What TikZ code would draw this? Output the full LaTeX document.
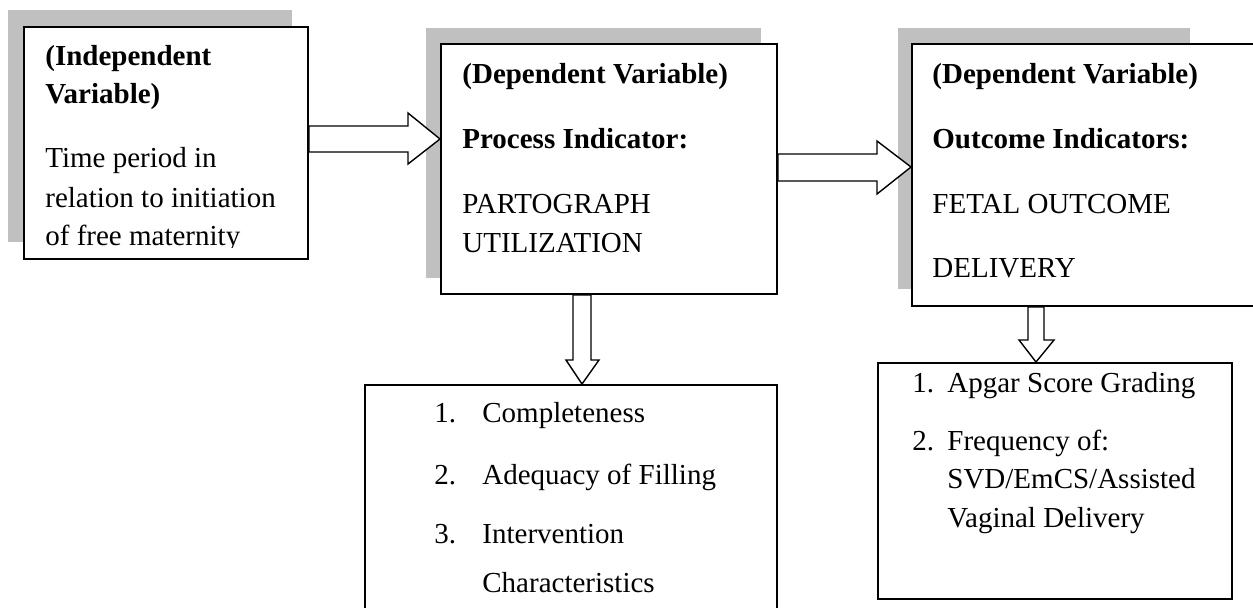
\documentclass[tikz,border=0pt]{standalone}
\usepackage{fontspec}
\setmainfont{Liberation Serif}
\usetikzlibrary{fit}
\definecolor{shadowgray}{RGB}{192,192,192}
\begin{document}
\begin{tikzpicture}[x=0.5pt,y=-0.5pt,
  box/.style={draw=black, line width=1pt, fill=white, inner sep=0pt},
  shadowbox/.style={fill=shadowgray},
  blockarrow/.style={draw=black, line width=0.7pt, fill=white, line join=miter},
  txt/.style={anchor=base west, inner sep=0pt, font=\fontsize{14.5}{17}\selectfont},
  btxt/.style={anchor=base west, inner sep=0pt, font=\fontsize{14.5}{17}\selectfont\bfseries}]
\useasboundingbox (0,0) rectangle (1253,607);
% shadows
\fill[shadowgray] (8,10) rectangle (292,242);
\fill[shadowgray] (426,28) rectangle (761,278);
\fill[shadowgray] (898,28) rectangle (1190,289);
% boxes
\node[box, fit={(24,27) (308,259)}] (b1) {};
\node[box, fit={(441,44) (777,294)}] (b2) {};
\node[box, fit={(912,44) (1264,306)}] (b3) {};
\node[box, fit={(365,385) (777,630)}] (b4) {};
\node[box, fit={(878,363) (1232,599)}] (b5) {};
% block arrows
\draw[blockarrow] (b1.east |- 0,126) -- (408,126) -- (408,113) -- (b2.west |- 0,139)
  -- (408,164) -- (408,152) -- (b1.east |- 0,152) -- cycle;
\draw[blockarrow] (b2.east |- 0,154) -- (877,154) -- (877,141) -- (b3.west |- 0,167)
  -- (877,194) -- (877,181) -- (b2.east |- 0,181) -- cycle;
\draw[blockarrow] (573,0 |- b2.south) -- (573,360) -- (566,360) -- (582,0 |- b4.north)
  -- (599,360) -- (591,360) -- (591,0 |- b2.south) -- cycle;
\draw[blockarrow] (1028,0 |- b3.south) -- (1028,340) -- (1019,340) -- (1036,0 |- b5.north)
  -- (1054,340) -- (1044,340) -- (1044,0 |- b3.south) -- cycle;
% box 1 text (clipped)
\begin{scope}
\clip (24,27) rectangle (308,247);
\node[btxt] (t1a) at (45,65) {(Independent};
\node[btxt] (t1b) at (45,103) {Variable)};
\node[txt] (t1c) at (45,167) {Time period in};
\node[txt] (t1d) at (45,207) {relation to initiation};
\node[txt] (t1e) at (45,245) {of free maternity};
\end{scope}
% box 2 text
\node[btxt] (t2a) at (462,83) {(Dependent Variable)};
\node[btxt] (t2b) at (462,148) {Process Indicator:};
\node[txt] (t2c) at (462,213) {PARTOGRAPH};
\node[txt] (t2d) at (462,252) {UTILIZATION};
% box 3 text
\node[btxt] (t3a) at (932,83) {(Dependent Variable)};
\node[btxt] (t3b) at (932,148) {Outcome Indicators:};
\node[txt] (t3c) at (932,213) {FETAL OUTCOME};
\node[txt] (t3d) at (932,277) {DELIVERY};
% box 4 text
\node[txt] (n4a) at (434,422) {1.};
\node[txt] (t4a) at (482,422) {Completeness};
\node[txt] (n4b) at (434,484) {2.};
\node[txt] (t4b) at (482,484) {Adequacy of Filling};
\node[txt] (n4c) at (434,543) {3.};
\node[txt] (t4c) at (482,543) {Intervention};
\node[txt] (t4d) at (482,592) {Characteristics};
% box 5 text
\node[txt] (n5a) at (912,392) {1.};
\node[txt] (t5a) at (947,392) {Apgar Score Grading};
\node[txt] (n5b) at (912,450) {2.};
\node[txt] (t5b) at (947,450) {Frequency of:};
\node[txt] (t5c) at (947,488) {SVD/EmCS/Assisted};
\node[txt] (t5d) at (947,527) {Vaginal Delivery};
\end{tikzpicture}
\end{document}
